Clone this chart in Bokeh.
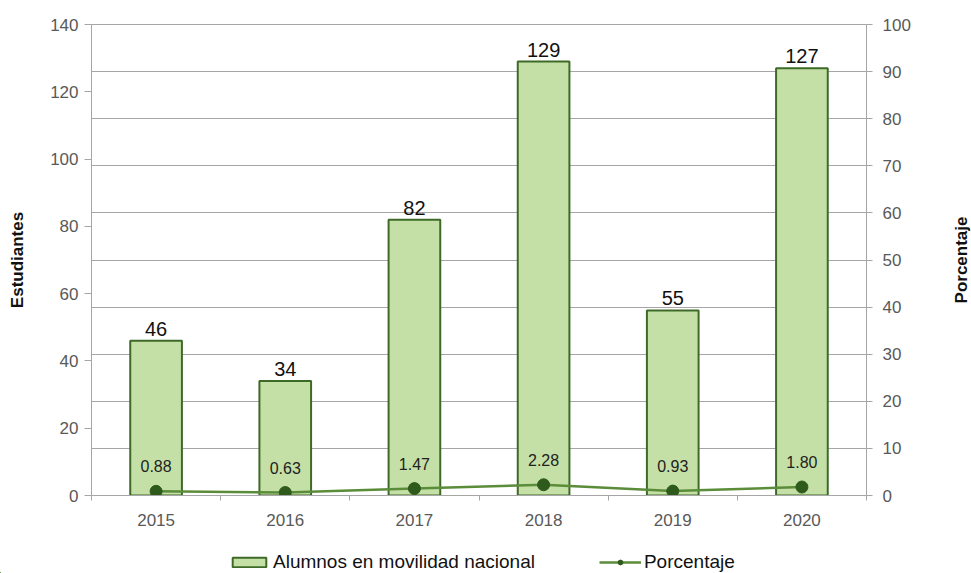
from bokeh.plotting import figure
from bokeh.layouts import column, row
from bokeh.models import (ColumnDataSource, Range1d, LinearAxis, FixedTicker, Grid, Legend, Label)
from bokeh.core.properties import value
from bokeh.embed import file_html
from bokeh.resources import INLINE

years = ["2015", "2016", "2017", "2018", "2019", "2020"]
alumnos = [46, 34, 82, 129, 55, 127]
porcentaje = [0.88, 0.63, 1.47, 2.28, 0.93, 1.80]
left_ticks = [0, 20, 40, 60, 80, 100, 120, 140]
right_ticks = [0, 10, 20, 30, 40, 50, 60, 70, 80, 90, 100]
bar_name = "Alumnos en movilidad nacional"
line_name = "Porcentaje"
left_title = "Estudiantes"
right_title = "Porcentaje"

FONT = "Liberation Sans"
GRAY = "#a6a6a6"
TICKC = "#595959"
BAR_FILL = "#c4e0a6"
BAR_LINE = "#3e6a28"
LINE_C = "#5b8c3a"
DOT_C = "#2e5a1c"

xs = [i + 0.5 for i in range(len(years))]
src = ColumnDataSource(dict(
    x=xs, alumnos=alumnos, pct=porcentaje,
    alabel=[str(v) for v in alumnos],
    plabel=["%.2f" % v for v in porcentaje],
))

TOP, BOTTOM = 24, 40

p = figure(frame_width=775, frame_height=471, output_backend="svg", toolbar_location=None,
           x_range=Range1d(0, len(years)), y_range=Range1d(0, 140))
p.min_border_left = 91
p.min_border_right = 81
p.min_border_top = TOP
p.min_border_bottom = BOTTOM
p.background_fill_color = "white"
p.border_fill_color = "white"
p.outline_line_color = GRAY

p.extra_y_ranges = {"pct": Range1d(0, 100)}

p.vbar(x="x", top="alumnos", width=0.4, source=src,
       fill_color=BAR_FILL, line_color=BAR_LINE, line_width=2)
p.line(x="x", y="pct", source=src, y_range_name="pct",
       line_color=LINE_C, line_width=2.5)
p.scatter(x="x", y="pct", source=src, y_range_name="pct",
          size=12, fill_color=DOT_C, line_color=DOT_C)

p.text(x="x", y="alumnos", text="alabel", source=src, text_align="center",
       text_baseline="alphabetic", y_offset=-12, text_font=value(FONT),
       text_font_size="20px", text_color="#111111")
p.text(x="x", y="pct", text="plabel", source=src, y_range_name="pct",
       text_align="center", text_baseline="middle", y_offset=-25,
       text_font=value(FONT), text_font_size="16px", text_color="#222222")

# x axis
xa = p.xaxis[0]
xa.axis_label = None
xa.ticker = FixedTicker(ticks=xs, minor_ticks=list(range(0, len(years) + 1)))
xa.major_label_overrides = {x: y for x, y in zip(xs, years)}
xa.major_tick_in = 0
xa.major_tick_out = 0
xa.minor_tick_in = 0
xa.minor_tick_out = 5
xa.minor_tick_line_color = GRAY
xa.axis_line_color = GRAY
xa.major_label_text_font = FONT
xa.major_label_text_font_size = "17px"
xa.major_label_text_color = TICKC
xa.major_label_standoff = 13

# left axis
ya = p.yaxis[0]
ya.ticker = FixedTicker(ticks=left_ticks)
ya.axis_label = left_title
ya.axis_label_text_font = FONT
ya.axis_label_text_font_style = "bold"
ya.axis_label_text_font_size = "17px"
ya.axis_label_text_color = "#111111"
ya.axis_label_standoff = 20
ya.major_label_text_font = FONT
ya.major_label_text_font_size = "17px"
ya.major_label_text_color = TICKC
ya.major_label_standoff = 6
ya.major_tick_in = 0
ya.major_tick_out = 7
ya.major_tick_line_color = GRAY
ya.minor_tick_line_color = None
ya.axis_line_color = GRAY

# right axis
ra = LinearAxis(y_range_name="pct", ticker=FixedTicker(ticks=right_ticks))
ra.major_label_text_font = FONT
ra.major_label_text_font_size = "17px"
ra.major_label_text_color = TICKC
ra.major_label_standoff = 10
ra.major_tick_in = 0
ra.major_tick_out = 6
ra.major_tick_line_color = GRAY
ra.minor_tick_line_color = None
ra.axis_line_color = GRAY
p.add_layout(ra, "right")

p.xgrid.visible = False
p.ygrid.visible = False
p.add_layout(Grid(dimension=1, y_range_name="pct", ticker=ra.ticker,
                  grid_line_color=GRAY, grid_line_width=1))

# right-hand axis title (reads bottom to top)
side = figure(frame_width=24, frame_height=471, output_backend="svg", toolbar_location=None,
              x_range=Range1d(0, 1), y_range=Range1d(0, 100),
              x_axis_location=None, y_axis_location=None)
side.min_border_left = 0
side.min_border_right = 0
side.min_border_top = TOP
side.min_border_bottom = BOTTOM
side.outline_line_color = None
side.grid.visible = False
side.add_layout(Label(x=0.6, y=50, text=right_title, angle=90, angle_units="deg",
                      text_align="center", text_baseline="middle",
                      text_font=FONT, text_font_style="bold", text_font_size="17px",
                      text_color="#111111"))

# legend strip (same series, drawn outside its visible range so only the legend shows)
lf = figure(frame_width=971, frame_height=38, output_backend="svg", toolbar_location=None,
            x_range=Range1d(1000, 1001), y_range=Range1d(1000, 1001),
            x_axis_location=None, y_axis_location=None)
lf.min_border_left = lf.min_border_right = lf.min_border_top = lf.min_border_bottom = 0
lf.outline_line_color = None
lf.grid.visible = False
lb = lf.vbar(x="x", top="alumnos", width=0.4, source=src,
             fill_color=BAR_FILL, line_color=BAR_LINE, line_width=2)
ll = lf.line(x="x", y="pct", source=src, line_color=LINE_C, line_width=2.5)
ls = lf.scatter(x="x", y="pct", source=src, size=10, fill_color=DOT_C, line_color=DOT_C)
legend = Legend(items=[(bar_name, [lb]), (line_name, [ll, ls])],
                orientation="horizontal", location=(228, 0),
                label_text_font=FONT, label_text_font_size="19px",
                label_text_color="#111111", border_line_color=None,
                background_fill_alpha=0, spacing=64, glyph_width=42,
                glyph_height=12, label_standoff=3, padding=0, margin=0,
                label_height=20)
lf.add_layout(legend, "center")

layout = column(row(p, side), lf)
open("out.html", "w").write(file_html(layout, INLINE))
